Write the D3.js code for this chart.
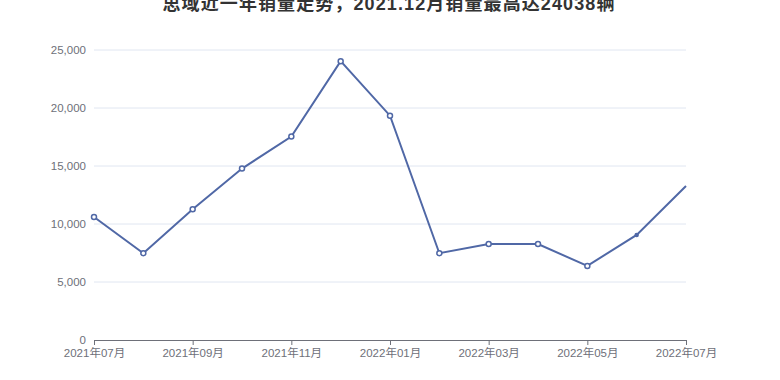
<!DOCTYPE html>
<html>
<head>
<meta charset="utf-8">
<script src="https://cdn.jsdelivr.net/npm/d3@7"></script>
<style>
  body { margin: 0; background: #fff; }
  text { font-family: "Liberation Sans", "Noto Sans CJK SC", sans-serif; }
</style>
</head>
<body>
<div id="chart"></div>
<script>
// 数据
var months = ["2021年07月", "2021年08月", "2021年09月", "2021年10月", "2021年11月", "2021年12月",
              "2022年01月", "2022年02月", "2022年03月", "2022年04月", "2022年05月", "2022年06月", "2022年07月"];
var sales = [10600, 7480, 11270, 14780, 17540, 24038, 19340, 7480, 8270, 8270, 6390, 9060, 13280];
var yTicks = [0, 5000, 10000, 15000, 20000, 25000];
var title = "思域近一年销量走势，2021.12月销量最高达24038辆";

var width = 780, height = 380;
var margin = {top: 50, right: 94, bottom: 40, left: 94};

var svg = d3.select("#chart").append("svg")
    .attr("width", width)
    .attr("height", height);

var x = d3.scalePoint().domain(months).range([margin.left, width - margin.right]);
var y = d3.scaleLinear().domain([0, 25000]).range([height - margin.bottom, margin.top]);

svg.append("text")
    .attr("x", 389)
    .attr("y", 10)
    .attr("text-anchor", "middle")
    .style("font-size", "18px")
    .style("font-weight", "bold")
    .style("letter-spacing", "1.1px")
    .style("fill", "#333")
    .text(title);

// 网格线
svg.append("g").selectAll("line")
    .data(yTicks.slice(1))
  .enter().append("line")
    .attr("x1", margin.left)
    .attr("x2", width - margin.right)
    .attr("y1", function(d) { return y(d); })
    .attr("y2", function(d) { return y(d); })
    .style("stroke", "#e0e6f1")
    .style("stroke-width", 1);

// y轴
var yAxis = svg.append("g")
    .attr("transform", "translate(" + margin.left + ",0)")
    .call(d3.axisLeft(y).tickValues(yTicks).tickSize(0).tickPadding(8).tickFormat(d3.format(",")));
yAxis.select(".domain").remove();
yAxis.selectAll("text").style("font-size", "11.5px").style("fill", "#6e7079");

// x轴
var xAxis = svg.append("g")
    .attr("transform", "translate(0," + y(0) + ")")
    .call(d3.axisBottom(x).tickValues(months.filter(function(d, i) { return i % 2 === 0; }))
      .tickSizeOuter(0).tickSizeInner(5).tickPadding(4));
xAxis.select(".domain").style("stroke", "#6e7079");
xAxis.selectAll(".tick line").style("stroke", "#6e7079");
xAxis.selectAll("text").style("font-size", "11.5px").style("fill", "#6e7079");

var line = d3.line()
    .x(function(d, i) { return x(months[i]); })
    .y(function(d) { return y(d); });

svg.append("path")
    .datum(sales)
    .attr("d", line)
    .style("fill", "none")
    .style("stroke", "#5068a6")
    .style("stroke-width", 2);

svg.append("g").selectAll("circle")
    .data(sales.slice(0, sales.length - 1))
  .enter().append("circle")
    .attr("cx", function(d, i) { return x(months[i]); })
    .attr("cy", function(d) { return y(d); })
    .attr("r", function(d, i) { return i === 11 ? 1.5 : 2.5; })
    .style("fill", function(d, i) { return i === 11 ? "#5068a6" : "#fff"; })
    .style("stroke", "#5068a6")
    .style("stroke-width", 1.5);
</script>
</body>
</html>
